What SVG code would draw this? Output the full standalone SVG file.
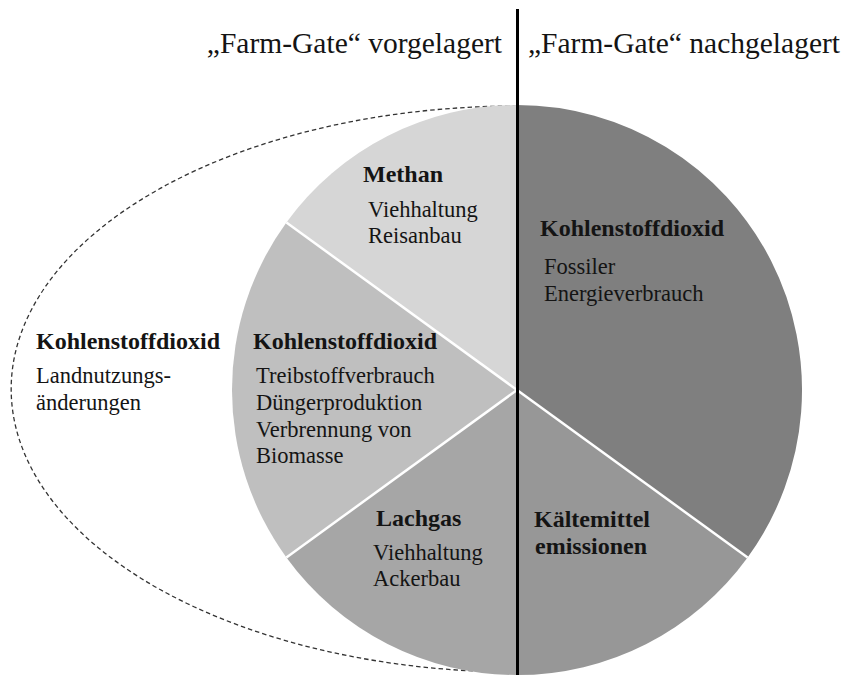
<svg xmlns="http://www.w3.org/2000/svg" width="841" height="675" viewBox="0 0 841 675">
<style>
  text { font-family: 'Liberation Serif', 'DejaVu Serif', serif; fill: #141414; }
  .h { font-size: 29.5px; }
  .b { font-size: 24px; font-weight: bold; }
  .r { font-size: 22.5px; }
  .sep { stroke: #ffffff; stroke-width: 2.5; fill: none; }
</style>
<rect width="841" height="675" fill="#ffffff"/>

<g id="boundary">
  <path d="M 517 106 A 506 283 0 0 0 517 672" fill="none" stroke="#333333" stroke-width="1.3" stroke-dasharray="4.5 3"/>
</g>

<g id="slice-right">
  <path d="M 517 390 L 517 105 A 285 285 0 0 1 747.6 557.5 Z" fill="#7f7f7f"/>
  <text class="b" x="540" y="236">Kohlenstoffdioxid</text>
  <text class="r" x="544" y="274">Fossiler</text>
  <text class="r" x="544" y="301">Energieverbrauch</text>
</g>

<g id="slice-lower-right">
  <path d="M 517 390 L 747.6 557.5 A 285 285 0 0 1 517 675 Z" fill="#979797"/>
  <text class="b" x="534" y="527">Kältemittel</text>
  <text class="b" x="535" y="554">emissionen</text>
</g>

<g id="slice-lower-left">
  <path d="M 517 390 L 517 675 A 285 285 0 0 1 286.4 557.5 Z" fill="#a6a6a6"/>
  <text class="b" x="376" y="526">Lachgas</text>
  <text class="r" x="373" y="560">Viehhaltung</text>
  <text class="r" x="373" y="586">Ackerbau</text>
</g>

<g id="slice-left">
  <path d="M 517 390 L 286.4 557.5 A 285 285 0 0 1 286.4 222.5 Z" fill="#bfbfbf"/>
  <text class="b" x="253" y="349">Kohlenstoffdioxid</text>
  <text class="r" x="256" y="383">Treibstoffverbrauch</text>
  <text class="r" x="256" y="410">Düngerproduktion</text>
  <text class="r" x="256" y="437">Verbrennung von</text>
  <text class="r" x="256" y="463">Biomasse</text>
</g>

<g id="slice-upper-left">
  <path d="M 517 390 L 286.4 222.5 A 285 285 0 0 1 517 105 Z" fill="#d6d6d6"/>
  <text class="b" x="363" y="182">Methan</text>
  <text class="r" x="368" y="217">Viehhaltung</text>
  <text class="r" x="368" y="243">Reisanbau</text>
</g>

<g id="outer-label">
  <text class="b" x="36" y="349">Kohlenstoffdioxid</text>
  <text class="r" x="36" y="383">Landnutzungs-</text>
  <text class="r" x="36" y="410">änderungen</text>
</g>

<g id="connectors">
  <line class="sep" x1="517" y1="390" x2="747.6" y2="557.5"/>
  <line class="sep" x1="517" y1="390" x2="286.4" y2="557.5"/>
  <line class="sep" x1="517" y1="390" x2="286.4" y2="222.5"/>
  <line x1="517.5" y1="9" x2="517.5" y2="675" stroke="#000000" stroke-width="3"/>
</g>

<g id="headers">
  <text class="h" x="502" y="53" text-anchor="end">„Farm-Gate“ vorgelagert</text>
  <text class="h" x="528" y="53">„Farm-Gate“ nachgelagert</text>
</g>
</svg>
